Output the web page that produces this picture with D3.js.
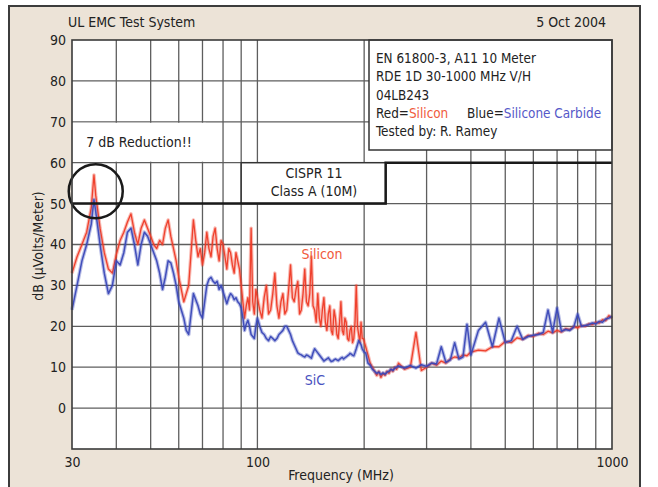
<!DOCTYPE html>
<html><head><meta charset="utf-8">
<script src="https://cdn.jsdelivr.net/npm/d3@7"></script>
<style>
html,body{margin:0;padding:0;background:#fff;}
svg{display:block;}
text{font-family:"Liberation Sans Narrow","DejaVu Sans Condensed","Arial Narrow",sans-serif;fill:#222;}
</style></head><body>
<svg id="c" width="658" height="487"></svg>
<script>
// ---- data ----
const freqs = [30,31,32,33,34,34.6,35,36,37,38,39,40,41,42,43,44,45,46,47,48,49,
  50,51,52,53,54,55,56,57,58,59,60,61,62,63,64,65,66,67,68,69,70,71,72,73,74,75,
  76,77,78,79,80,81,82,83,84,85,86,87,88,89,90,91,92,93,94,95,96,97,98,99,
  100,101.5,103,104.5,106,107.5,109,110.5,112,113.5,115,116.5,118,119.5,121,122.5,
  124,125.5,127,128.5,130,131.5,133,134.5,136,137.5,139,140.5,142,143.5,145,146.5,
  148,149.5,151,152.5,154,155.5,157,158.5,160,161.5,163,164.5,166,167.5,169,170.5,
  172,173.5,175,176.5,178,179.5,181,182.5,184,185.5,187,188.5,190,191.5,193,194.5,
  196,197.5,199,200.5,202,203.5,205,
  208,211,214,217,220,223,226,229,232,235,238,241,244,247,250,
  260,270,280,290,300,310,320,330,340,350,360,370,380,390,400,
  420,440,460,480,500,520,540,560,580,600,620,640,660,680,700,720,740,760,780,800,
  820,840,860,880,900,920,940,960,980,1000];
const siliconDb = [33,37,40,43,49,57,52,44,38,34,33,37.5,41,43,45.5,47.5,43,40,44,46,44,
  42,40,39,41,40,44,46,42,39,36,32,29,26,28,30,38,46,41,37,39,35,38,43,39,37,42,
  44,39,36,41,40,37,34,39,38,35,33,38,36,34,30,26,22,25,27,24,44,26,23,29,
  27,24,22,27,30,23,24,28,33,25,22,26,28,23,24,29,
  35,27,26,29,31,23,24,28,34,26,25,28,37,25,24,21,
  28,22,20,24,27,21,19,23,25,19,18,24,22,18,17,21,
  26,19,18,22,21,17,16.5,19,20,16,17,21,30,20,18,16,
  21,17,17,16,15,14,13,
  11,10,9,8,9,7.5,8.5,8,9,8.5,9.5,9,10,9.5,11,
  9.5,10,18.5,9.2,10,11,10.5,11.5,11,12,12.5,12.3,13,12.8,13.7,
  14.2,14,15,15,16.3,16,17.2,16.8,17.8,17.5,18.3,18,18.8,18.4,19,18.6,19.4,19.2,19.9,19.6,
  20.2,20,20.6,20.4,21,20.8,21.6,21.4,22.6,22];
const sicDb = [24,30,36,40,45,51,48,40,33,28,30,36,35,38,43,44,40,35,40,43,42,
  40,38,36,33,29,32,36,35.5,33,30,26,24,22,19,18,23,28,26.5,25,23,22,26,30,31.5,32,31,
  30.5,31,29,30,28.5,27,25.5,27,28,27.5,26.5,27,26,25.5,24.5,22,19,20.5,21.5,20,18,17.5,17,20,
  22,20,18.5,18,17,16.5,17.5,17,16.5,17,18,18.5,19,20,20,19,
  18,16.5,15.5,14.5,13.5,13.2,13,12.7,12.5,13,12.8,12.5,12.2,13.5,14.5,14,
  13.5,13,12.5,12,11.5,11.8,12,12.3,11.8,11.4,11.5,11.8,12,11.8,11.6,11.9,
  12.2,12.4,12,12.3,12.5,12.8,13,13.4,13.2,12.9,12.8,13.6,14.5,15.5,16.5,16,
  15.5,14.5,14,13.6,13.5,12.2,11,
  10.5,9.5,9,8.5,8.8,8.2,8.6,8.3,8.8,9,9.5,9.2,9.8,10,10.3,
  9.8,10.4,9.8,10.6,10.2,11,10.8,15,11.2,11.8,16,12,12.5,20.5,13,
  19,21,15,22,16,16.5,20,16.8,17.5,17.8,18,18.5,24,18.5,24.5,18.8,19.2,19,19.8,23,
  20,20.2,20.4,20.8,20.6,21.2,21,21.8,22,22.5];
const xTickValues = [30, 100, 1000];
const xGridValues = [40,50,60,70,80,90,100,200,300,400,500,600,700,800,900];
const yTickValues = [0,10,20,30,40,50,60,70,80,90];
const yGridValues = [0,10,20,30,40,50,60,70,80];
const limitFreqs = [30, 230, 230, 1000];
const limitDb = [50, 50, 60, 60];
const legendLines = ["EN 61800-3, A11 10 Meter","RDE 1D 30-1000 MHz V/H","04LB243"];

// ---- layout ----
const svg = d3.select("#c");
const L = 72, R = 612, T = 40, B = 449;
const x = d3.scaleLog().domain([30, 1000]).range([L, R]);
const y = d3.scaleLinear().domain([-10, 90]).range([B, T]);
const RED = "#ee3a26", BLUE = "#3a48b8";

// outer panel
svg.append("rect").attr("x", 9).attr("y", 6).attr("width", 631).attr("height", 500)
  .attr("fill", "#ece3d7").attr("stroke", "#3c3c3c").attr("stroke-width", 2);

svg.append("text").attr("x", 68).attr("y", 27).attr("font-size", 14).text("UL EMC Test System");
svg.append("text").attr("x", 606).attr("y", 27).attr("font-size", 14).attr("text-anchor", "end").text("5 Oct 2004");

// plot area
svg.append("rect").attr("x", L).attr("y", T).attr("width", R - L).attr("height", B - T).attr("fill", "#fff");

const grid = svg.append("g").attr("stroke", "#5e5e5e").attr("stroke-width", 1.3);
grid.selectAll(".vg").data(xGridValues).join("line")
  .attr("x1", d => x(d)).attr("x2", d => x(d)).attr("y1", T).attr("y2", B);
grid.selectAll(".hg").data(yGridValues).join("line")
  .attr("x1", L).attr("x2", R).attr("y1", d => y(d)).attr("y2", d => y(d));

// axes (labels only; lines are the frame)
const xAxis = d3.axisBottom(x).tickValues(xTickValues).tickFormat(d3.format("d")).tickSize(0).tickPadding(8);
const gx = svg.append("g").attr("transform", `translate(0,${B})`).call(xAxis);
gx.select(".domain").remove();
gx.selectAll("text").attr("font-size", 14).attr("fill", "#222")
  .style("font-family", '"Liberation Sans Narrow","DejaVu Sans Condensed",sans-serif');
const yAxis = d3.axisLeft(y).tickValues(yTickValues).tickSize(0).tickPadding(6);
const gy = svg.append("g").attr("transform", `translate(${L},0)`).call(yAxis);
gy.select(".domain").remove();
gy.selectAll("text").attr("font-size", 14).attr("fill", "#222")
  .style("font-family", '"Liberation Sans Narrow","DejaVu Sans Condensed",sans-serif');

svg.append("text").attr("x", 341).attr("y", 480).attr("font-size", 14).attr("text-anchor", "middle").text("Frequency (MHz)");
svg.append("text").attr("transform", "translate(43,246) rotate(-90)").attr("font-size", 14)
  .attr("text-anchor", "middle").text("dB (\u00b5Volts/Meter)");

// "7 dB Reduction!!" box
svg.append("rect").attr("x", L + 1).attr("y", y(70) + 1).attr("width", x(72) - L - 2).attr("height", y(60) - y(70) - 2).attr("fill", "#fff");
svg.append("text").attr("x", 139).attr("y", 147).attr("font-size", 14).attr("text-anchor", "middle").text("7 dB Reduction!!");

// CISPR box
svg.append("rect").attr("x", x(90)).attr("y", y(60)).attr("width", x(230) - x(90)).attr("height", y(50) - y(60))
  .attr("fill", "#fff").attr("stroke", "#333").attr("stroke-width", 1.5);
svg.append("text").attr("x", 314).attr("y", 178).attr("font-size", 14).attr("text-anchor", "middle").text("CISPR 11");
svg.append("text").attr("x", 314).attr("y", 196).attr("font-size", 14).attr("text-anchor", "middle").text("Class A (10M)");

// traces: a soft band under a thin trace
const line = d3.line().x(d => x(d[0])).y(d => y(d[1]));
function trace(vals, color, w) {
  const pts = freqs.map((f, i) => [f, vals[i]]);
  svg.append("path").datum(pts).attr("d", line).attr("fill", "none")
    .attr("stroke", color).attr("stroke-width", w + 2.2).attr("stroke-linejoin", "round").attr("opacity", 0.35);
  svg.append("path").datum(pts).attr("d", line).attr("fill", "none")
    .attr("stroke", color).attr("stroke-width", w).attr("stroke-linejoin", "round").attr("opacity", 0.95);
}
trace(siliconDb, RED, 1.3);
trace(sicDb, BLUE, 1.5);

// limit line
svg.append("path").datum(limitFreqs.map((f, i) => [f, limitDb[i]]))
  .attr("d", line).attr("fill", "none").attr("stroke", "#1a1a1a").attr("stroke-width", 2.5);

// circle annotation
svg.append("circle").attr("cx", x(35)).attr("cy", y(53)).attr("r", 27)
  .attr("fill", "none").attr("stroke", "#1a1a1a").attr("stroke-width", 2.5);

// series labels
svg.append("text").attr("x", 322).attr("y", 259).attr("font-size", 14).attr("text-anchor", "middle").style("fill", "#f05a3c").text("Silicon");
svg.append("text").attr("x", 315).attr("y", 385).attr("font-size", 14).attr("text-anchor", "middle").style("fill", "#4a52c0").text("SiC");

// legend box
svg.append("rect").attr("x", 369).attr("y", T).attr("width", R - 369).attr("height", 110)
  .attr("fill", "#fff").attr("stroke", "#333").attr("stroke-width", 1.5);
legendLines.forEach((s, i) => {
  svg.append("text").attr("x", 376).attr("y", 63 + i * 18.3).attr("font-size", 13.4).text(s);
});
const l4 = svg.append("text").attr("x", 376).attr("y", 118).attr("font-size", 13.4);
l4.append("tspan").text("Red=");
l4.append("tspan").style("fill", "#f05a3c").text("Silicon");
const l4b = svg.append("text").attr("x", 467).attr("y", 118).attr("font-size", 13.4);
l4b.append("tspan").text("Blue=");
l4b.append("tspan").style("fill", "#5558c8").text("Silicone Carbide");
svg.append("text").attr("x", 376).attr("y", 136).attr("font-size", 13.4).text("Tested by: R. Ramey");

// plot frame
svg.append("rect").attr("x", L).attr("y", T).attr("width", R - L).attr("height", B - T)
  .attr("fill", "none").attr("stroke", "#3a3a3a").attr("stroke-width", 1.6);
</script>
</body></html>
